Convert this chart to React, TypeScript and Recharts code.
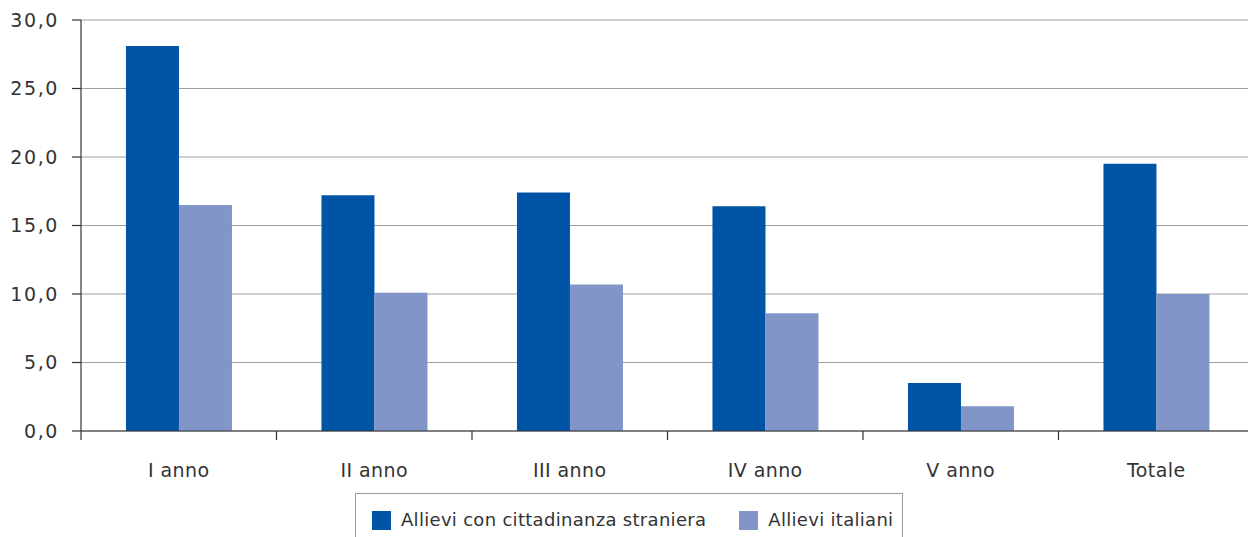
import React from "react";
import { BarChart, Bar, XAxis, YAxis, CartesianGrid, Legend } from "recharts";

const categories = ["I anno", "II anno", "III anno", "IV anno", "V anno", "Totale"];
const stranieri = [28.1, 17.2, 17.4, 16.4, 3.5, 19.5];
const italiani = [16.5, 10.1, 10.7, 8.6, 1.8, 10.0];
const yTicks = [0, 5, 10, 15, 20, 25, 30];
const seriesNames = ["Allievi con cittadinanza straniera", "Allievi italiani"];
const colors = ["#0054A5", "#8295C8"];

const data = categories.map((c, i) => ({ name: c, stranieri: stranieri[i], italiani: italiani[i] }));

const FONT = "'DejaVu Sans', sans-serif";
const TEXT = "#333333";

const XTick = (props: any) => {
  const { x, y, payload, width } = props;
  const half =
    payload && typeof payload.offset === "number" && payload.offset > 0
      ? payload.offset
      : width / categories.length / 2;
  return (
    <g>
      <line x1={x - half} x2={x - half} y1={y} y2={y + 9} stroke="#333" strokeWidth={1.2} />
      <text x={x} y={y + 46} textAnchor="middle" fontSize={19} fontFamily={FONT} fill={TEXT} letterSpacing={0.4}>
        {payload.value}
      </text>
    </g>
  );
};

const YTick = (props: any) => {
  const { x, y, payload } = props;
  return (
    <text x={x} y={y} dy="0.36em" textAnchor="end" fontSize={19} fontFamily={FONT} fill={TEXT} letterSpacing={1.6}>
      {Number(payload.value).toFixed(1).replace(".", ",")}
    </text>
  );
};

const LegendContent = () => (
  <div
    style={{
      boxSizing: "border-box",
      width: 548,
      height: 60,
      border: "1px solid #999",
      display: "flex",
      alignItems: "flex-start",
      paddingTop: 15,
      paddingLeft: 16,
      fontFamily: FONT,
      fontSize: 18,
      letterSpacing: 0.3,
      color: TEXT,
    }}
  >
    {seriesNames.map((n, i) => (
      <div key={n} style={{ display: "flex", alignItems: "center", marginRight: i === 0 ? 33 : 0 }}>
        <span style={{ display: "inline-block", width: 19, height: 19, background: colors[i], marginRight: 10 }} />
        <span style={{ lineHeight: "22px", whiteSpace: "nowrap" }}>{n}</span>
      </div>
    ))}
  </div>
);

export default function App() {
  return (
    <div style={{ width: 1248, height: 537, overflow: "hidden", position: "relative", background: "#fff" }}>
      <style>{`body{margin:0;overflow:hidden;}`}</style>
      <BarChart
        width={1254}
        height={537}
        data={data}
        margin={{ top: 20, right: 0, left: 0, bottom: 76 }}
        barCategoryGap="23%"
        barGap={0}
      >
        <CartesianGrid vertical={false} stroke="#a0a0a0" strokeWidth={1} />
        <XAxis
          dataKey="name"
          height={30}
          tickSize={0}
          tickMargin={0}
          tickLine={false}
          axisLine={{ stroke: "#333", strokeWidth: 1.2 }}
          tick={<XTick />}
          interval={0}
        />
        <YAxis
          width={81}
          domain={[0, 30]}
          ticks={yTicks}
          interval={0}
          tickSize={9}
          tickMargin={13}
          tickLine={{ stroke: "#333", strokeWidth: 1.2 }}
          axisLine={{ stroke: "#333", strokeWidth: 1.2 }}
          tick={<YTick />}
        />
        <Legend
          layout="horizontal"
          verticalAlign="middle"
          align="center"
          wrapperStyle={{ top: 493, left: 355, width: 548, height: 60 }}
          content={<LegendContent />}
        />
        <Bar dataKey="stranieri" name={seriesNames[0]} fill={colors[0]} isAnimationActive={false} />
        <Bar dataKey="italiani" name={seriesNames[1]} fill={colors[1]} isAnimationActive={false} />
      </BarChart>
    </div>
  );
}
